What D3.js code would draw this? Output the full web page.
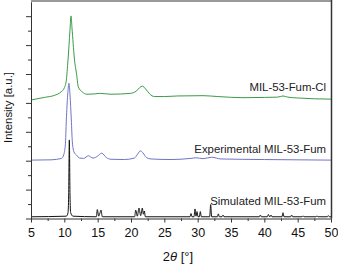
<!DOCTYPE html>
<html>
<head>
<meta charset="utf-8">
<script src="https://cdn.jsdelivr.net/npm/d3@7"></script>
<style>
    html, body { margin: 0; padding: 0; background: #fff; }
    svg { display: block; }
</style>
</head>
<body>
<svg id="grafico" width="338" height="266"></svg>
<script>

// 2theta (graus) / intensidade (u.a.)
const clTheta = [5, 7, 8.5, 9.5, 10.0, 10.3, 10.55, 10.85, 11.0, 11.15, 11.5, 11.85, 12.1, 12.7, 13.4, 14.5, 15.3, 17, 19.9,
    20.8, 21.3, 21.7, 22.2, 22.8, 23.5, 25, 27, 30.8, 33, 36.8, 40, 42, 42.8, 43.5, 45, 50];
const clIntensity = [4.10, 4.19, 4.26, 4.38, 4.52, 4.79, 5.48, 6.52, 7.01, 6.59, 5.55, 4.97, 4.55, 4.38, 4.30, 4.31, 4.33, 4.30, 4.33,
    4.41, 4.53, 4.58, 4.48, 4.31, 4.22, 4.22, 4.24, 4.25, 4.22, 4.18, 4.19, 4.20, 4.24, 4.20, 4.17, 4.13];

const expTheta = [5, 8, 9.6, 9.9, 10.15, 10.3, 10.5, 10.7, 10.85, 11.05, 11.2, 11.45, 11.8, 12.3, 12.9, 13.6, 14.3, 15.0, 15.6, 16.3,
    17, 19, 20.5, 21.0, 21.4, 21.8, 22.3, 23, 26, 29, 29.8, 30.8, 32.1, 33.5, 40, 50];
const expIntensity = [2.02, 2.03, 2.08, 2.20, 2.54, 3.41, 4.27, 4.68, 4.27, 3.41, 2.65, 2.30, 2.20, 2.09, 2.08, 2.17, 2.09, 2.16, 2.26, 2.11,
    2.05, 2.04, 2.09, 2.23, 2.34, 2.27, 2.11, 2.06, 2.04, 2.08, 2.10, 2.07, 2.12, 2.06, 2.04, 2.02];

const simTheta = [5, 10.3, 10.55, 10.65, 10.75, 10.85, 10.95, 11.3, 14.8, 14.95, 15.15, 15.3, 15.5, 15.7,
    20.55, 20.7, 20.95, 21.2, 21.45, 21.7, 21.85, 22.0, 22.15,
    28.85, 29.0, 29.15, 29.45, 29.6, 29.75, 29.9, 30.05, 30.25, 30.4, 30.55,
    31.8, 31.95, 32.1, 32.95, 33.1, 33.25, 33.65, 33.8, 33.95,
    39.25, 39.4, 39.55, 40.45, 40.6, 40.75, 40.85, 41.0, 41.15,
    42.65, 42.8, 42.95, 43.95, 44.1, 44.25, 45.65, 45.8, 45.95, 47.75, 47.9, 48.05, 49.45, 49.6, 49.75, 50];
const simIntensity = [0.06, 0.08, 0.20, 0.81, 2.72, 0.81, 0.20, 0.08, 0.06, 0.31, 0.08, 0.16, 0.29, 0.06,
    0.06, 0.29, 0.08, 0.36, 0.10, 0.36, 0.15, 0.26, 0.06,
    0.06, 0.17, 0.06, 0.06, 0.33, 0.08, 0.24, 0.06, 0.06, 0.24, 0.06,
    0.06, 0.48, 0.06, 0.06, 0.16, 0.06, 0.06, 0.12, 0.06,
    0.06, 0.12, 0.06, 0.06, 0.14, 0.07, 0.06, 0.12, 0.06,
    0.06, 0.20, 0.06, 0.06, 0.12, 0.06, 0.06, 0.09, 0.06, 0.06, 0.09, 0.06, 0.06, 0.10, 0.06, 0.06];

const seriesNames = ['MIL-53-Fum-Cl', 'Experimental MIL-53-Fum', 'Simulated MIL-53-Fum'];
const seriesColors = ['#3a9a48', '#6e76c6', '#111111'];
const labelY = [4.40, 2.28, 0.47];   // posicao do texto de cada serie, em u.a.

const xTicks = [5, 10, 15, 20, 25, 30, 35, 40, 45, 50];
const xMinorTicks = [7.5, 12.5, 17.5, 22.5, 27.5, 32.5, 37.5, 42.5, 47.5];
const yTicks = [0, 1, 2, 3, 4, 5, 6, 7];
const yMinorTicks = [0.5, 1.5, 2.5, 3.5, 4.5, 5.5, 6.5];

const font = '"Liberation Sans", Arial, Helvetica, sans-serif';

let svg = d3.select('#grafico');
let margin = {top: 1.75, right: 7, bottom: 47.5, left: 31};
let width = 338 - margin.left - margin.right;
let height = 266 - margin.top - margin.bottom;

let x = d3.scaleLinear().domain([5, 50]).range([margin.left, margin.left + width]);
let y = d3.scaleLinear().domain([0, 7.5]).range([margin.top + height, margin.top]);

// -- linhas dos difratogramas
let series = [
    {theta: clTheta, value: clIntensity},
    {theta: expTheta, value: expIntensity},
    {theta: simTheta, value: simIntensity}
];

let line = d3.line()
    .x(function(d) { return x(d[0]); })
    .y(function(d) { return y(d[1]); })
    .curve(d3.curveMonotoneX);

series.forEach(function(s, i) {
    let pts = s.theta.map(function(t, k) { return [t, s.value[k]]; });
    svg.append('path')
        .attr('d', line(pts))
        .attr('fill', 'none')
        .attr('stroke', seriesColors[i])
        .attr('stroke-width', 1)
        .attr('stroke-linejoin', 'round');
});

// -- textos das series
seriesNames.forEach(function(name, i) {
    svg.append('text')
        .attr('x', x(50) - 5)
        .attr('y', y(labelY[i]))
        .attr('text-anchor', 'end')
        .style('font-family', font)
        .style('font-size', '11.4px')
        .attr('fill', '#222')
        .text(name);
});

// -- moldura (topo e direita)
svg.append('line')
    .attr('x1', margin.left).attr('x2', x(50) + 1)
    .attr('y1', 1).attr('y2', 1)
    .attr('stroke', '#9a9a9a').attr('stroke-width', 2);
svg.append('line')
    .attr('x1', x(50) + 0.5).attr('x2', x(50) + 0.5)
    .attr('y1', 0).attr('y2', y(0))
    .attr('stroke', '#333').attr('stroke-width', 1.5);

// -- eixo X
let gx = svg.append('g')
    .attr('transform', 'translate(0,' + y(0) + ')')
    .call(d3.axisBottom(x).tickValues(xTicks).tickSize(4).tickPadding(6).tickSizeOuter(0));
svg.append('g')
    .attr('transform', 'translate(0,' + y(0) + ')')
    .call(d3.axisBottom(x).tickValues(xMinorTicks).tickSize(2.5).tickFormat('').tickSizeOuter(0))
    .select('.domain').remove();
gx.selectAll('text')
    .style('font-family', font)
    .style('font-size', '12.5px')
    .attr('fill', '#111');

// -- eixo Y (sem rotulos)
svg.append('g')
    .attr('transform', 'translate(' + margin.left + ',0)')
    .call(d3.axisLeft(y).tickValues(yTicks).tickSize(5).tickFormat('').tickSizeOuter(0));
svg.append('g')
    .attr('transform', 'translate(' + margin.left + ',0)')
    .call(d3.axisLeft(y).tickValues(yMinorTicks).tickSize(3).tickFormat('').tickSizeOuter(0))
    .select('.domain').remove();

svg.selectAll('.domain, .tick line').attr('stroke', '#333');

// -- titulos dos eixos
let xTitle = svg.append('text')
    .attr('x', 178)
    .attr('y', 261)
    .attr('text-anchor', 'middle')
    .style('font-family', font)
    .style('font-size', '13px')
    .attr('fill', '#111');
xTitle.append('tspan').text('2');
xTitle.append('tspan').style('font-style', 'italic').text('θ');
xTitle.append('tspan').text(' [°]');

svg.append('text')
    .attr('transform', 'translate(11.5,' + 107.5 + ') rotate(-90)')
    .attr('text-anchor', 'middle')
    .style('font-family', font)
    .style('font-size', '11.4px')
    .attr('fill', '#111')
    .text('Intensity [a.u.]');

</script>
</body>
</html>
